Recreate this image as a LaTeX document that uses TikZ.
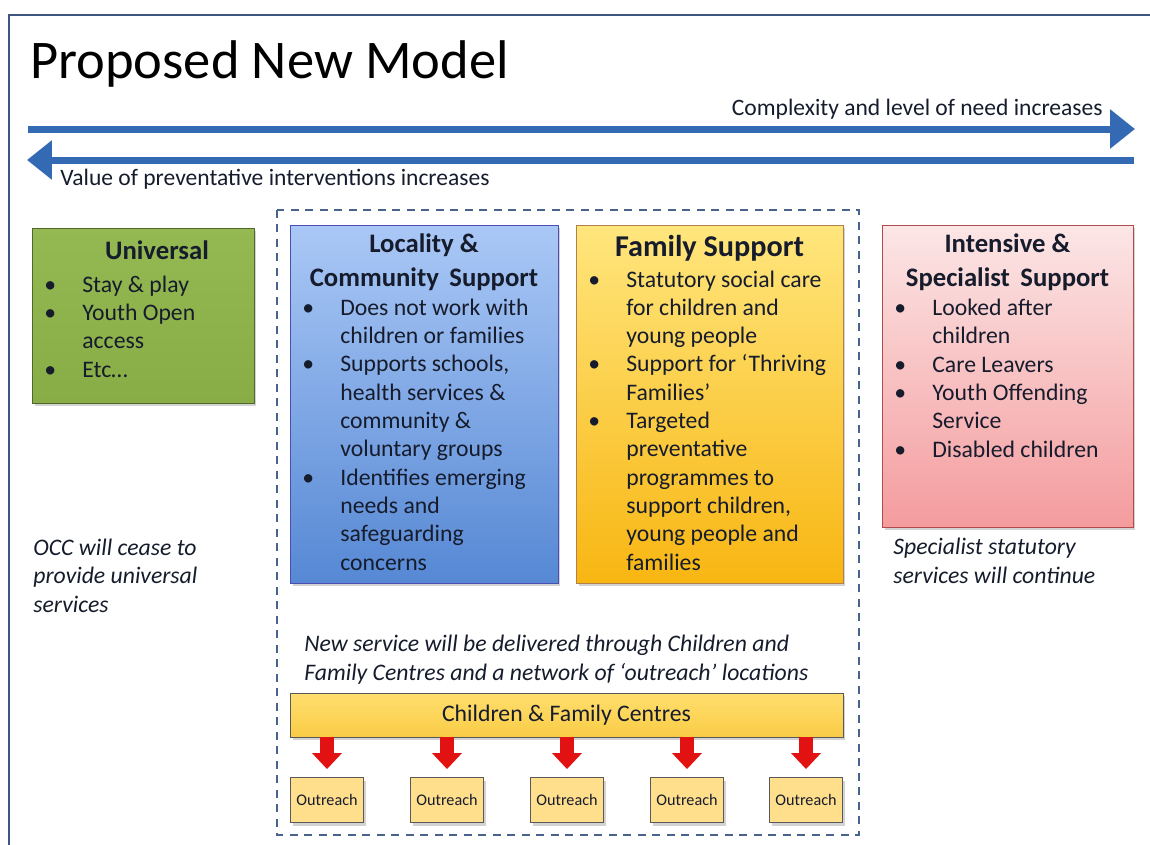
\documentclass[tikz,border=0pt]{standalone}
\usepackage{fontspec}
\setmainfont{Carlito}
\usetikzlibrary{arrows.meta,shadows,positioning}

\definecolor{frameblue}{RGB}{62,86,128}
\definecolor{arrowblue}{RGB}{52,106,180}
\definecolor{dashblue}{RGB}{72,100,140}
\definecolor{unigreen1}{RGB}{148,184,82}
\definecolor{unigreen2}{RGB}{136,172,70}
\definecolor{locblue1}{RGB}{170,200,246}
\definecolor{locblue2}{RGB}{86,136,212}
\definecolor{famyel1}{RGB}{255,230,125}
\definecolor{famyel2}{RGB}{248,182,18}
\definecolor{inspink1}{RGB}{252,230,230}
\definecolor{inspink2}{RGB}{244,156,158}
\definecolor{cfcyel1}{RGB}{255,222,110}
\definecolor{cfcyel2}{RGB}{250,204,70}
\definecolor{outyel}{RGB}{255,222,140}
\definecolor{arrowred}{RGB}{226,18,18}
\definecolor{ink}{RGB}{22,28,44}

\newcommand{\bulpt}{\makebox[0.76cm][l]{\textbullet}}
\newcommand{\bulgap}{\hspace*{0.76cm}}

\begin{document}
\begin{tikzpicture}[x=0.02cm, y=-0.02cm,
  bluearrow/.style={arrowblue, line width=0.14cm, -{Triangle[length=0.5cm, width=0.76cm]}},
  redarrow/.style={arrowred, line width=0.28cm, shorten >=0.16cm, -{Triangle[length=0.32cm, width=0.58cm]}},
  svcbox/.style={draw=#1, line width=0.5pt, drop shadow={shadow xshift=0.05cm, shadow yshift=-0.06cm, opacity=0.35}},
  boxtitle/.style={anchor=base, align=center, text=ink, inner sep=0pt, font=\bfseries\fontsize{15.2}{18.8}\selectfont},
  boxlist/.style={anchor=base west, align=left, text=ink, inner sep=0pt, font=\fontsize{13.5}{16.1}\selectfont},
  note/.style={anchor=base west, align=left, text=ink, inner sep=0pt, font=\itshape\fontsize{13.5}{16}\selectfont},
  outbox/.style={svcbox=gray!70!black, fill=outyel, minimum width=1.46cm, minimum height=0.9cm, inner sep=0pt, text=ink, font=\fontsize{9.2}{11}\selectfont}
]
\useasboundingbox (0,0) rectangle (1150,845);

% frame and heading
\draw[frameblue, line width=1.6pt] (9,870) -- (9,15) -- (1170,15);
\node[anchor=base west, inner sep=0pt, font=\fontsize{31}{36}\selectfont] (heading) at (30,78) {Proposed New Model};

% need / prevention arrows
\coordinate (needL) at (28,129);
\coordinate (needR) at (1135,129);
\coordinate (prevR) at (1134,160);
\coordinate (prevL) at (27,160);
\draw[bluearrow] (needL) -- (needR);
\draw[bluearrow] (prevR) -- (prevL);
\node[anchor=base east, inner sep=0pt, text=ink, font=\fontsize{13.4}{16}\selectfont] (needtxt) at (1103,115) {Complexity and level of need increases};
\node[anchor=base west, inner sep=0pt, text=ink, font=\fontsize{13.4}{16}\selectfont] (prevtxt) at (60,185) {Value of preventative interventions increases};

% new service area
\draw[dashblue, line width=0.8pt, dash pattern=on 0.16cm off 0.13cm] (277,210) rectangle (859,835);

% universal (base = last line)
\node[svcbox=unigreen2!60!black, top color=unigreen1, bottom color=unigreen2, minimum width=4.44cm, minimum height=3.5cm] (uni) at (143,315.5) {};
\node[boxtitle] (unititle) at (157,259) {Universal};
\node[boxlist] (unilist) at (44,377) {\bulpt Stay \& play\\ \bulpt Youth Open\\ \bulgap access\\ \bulpt Etc\dots};
\node[note] (uninote) at (33,612) {OCC will cease to\\ provide universal\\ services};

% locality
\node[svcbox=gray!60!blue, top color=locblue1, bottom color=locblue2, minimum width=5.36cm, minimum height=7.16cm] (loc) at (424,404) {};
\node[boxtitle] (loctitle) at (424,286) {Locality \&\\ Community\, Support};
\node[boxlist] (loclist) at (302,570) {\bulpt Does not work with\\ \bulgap children or families\\ \bulpt Supports schools,\\ \bulgap health services \&\\ \bulgap community \&\\ \bulgap voluntary groups\\ \bulpt Identifies emerging\\ \bulgap needs and\\ \bulgap safeguarding\\ \bulgap concerns};

% family support
\node[svcbox=gray!60!orange, top color=famyel1, bottom color=famyel2, minimum width=5.34cm, minimum height=7.16cm] (fam) at (709.5,404) {};
\node[boxtitle, font=\bfseries\fontsize{17.2}{20}\selectfont] (famtitle) at (709.5,256) {Family Support};
\node[boxlist] (famlist) at (588,570) {\bulpt Statutory social care\\ \bulgap for children and\\ \bulgap young people\\ \bulpt Support for `Thriving\\ \bulgap Families'\\ \bulpt Targeted\\ \bulgap preventative\\ \bulgap programmes to\\ \bulgap support children,\\ \bulgap young people and\\ \bulgap families};

% intensive
\node[svcbox=gray!60!red, top color=inspink1, bottom color=inspink2, minimum width=5.02cm, minimum height=6.04cm] (ins) at (1007.5,376) {};
\node[boxtitle] (institle) at (1007.5,286) {Intensive \&\\ Specialist\, Support};
\node[boxlist] (inslist) at (894,457) {\bulpt Looked after\\ \bulgap children\\ \bulpt Care Leavers\\ \bulpt Youth Offending\\ \bulgap Service\\ \bulpt Disabled children};
\node[note] (insnote) at (893,583) {Specialist statutory\\ services will continue};

% centres and outreach
\node[note] (cfcnote) at (304,680) {New service will be delivered through Children and\\ Family Centres and a network of `outreach' locations};
\node[svcbox=gray!70!black, top color=cfcyel1, bottom color=cfcyel2, minimum width=11.06cm, minimum height=0.88cm, text=ink, font=\fontsize{13.5}{16}\selectfont] (cfc) at (566.5,715) {Children \& Family Centres};
\foreach \i/\x in {1/327,2/447,3/567,4/687,5/806}
  \node[outbox] (o\i) at (\x,800) {Outreach};
\foreach \i in {1,...,5}
  \draw[redarrow] (cfc.south -| o\i.north) -- (o\i.north);
\end{tikzpicture}
\end{document}
